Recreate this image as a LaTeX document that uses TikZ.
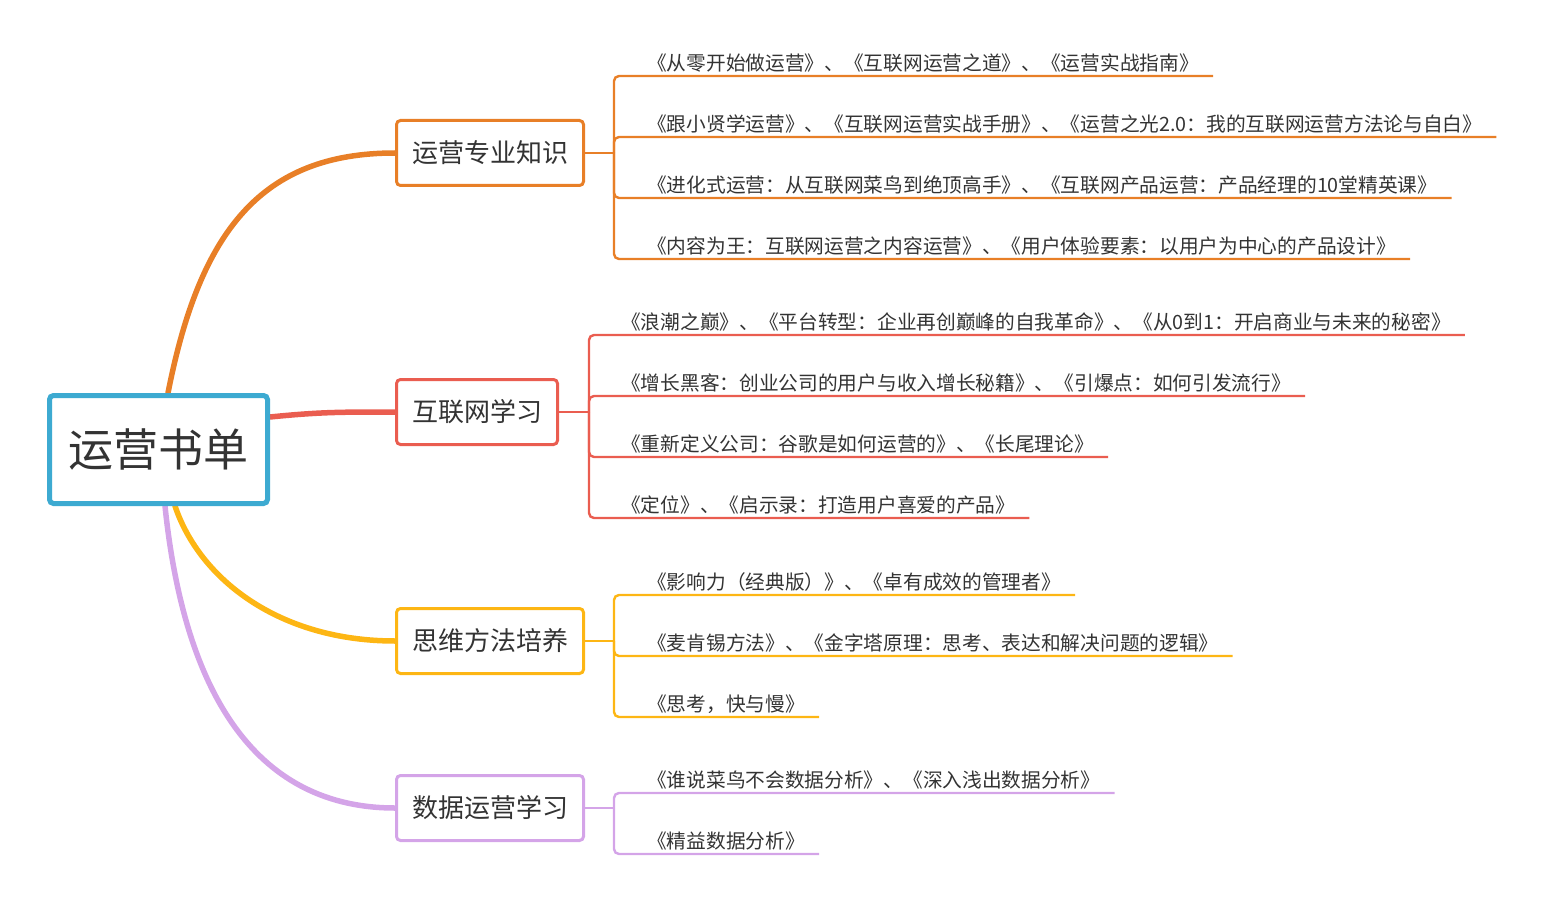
\documentclass[tikz,border=0pt]{standalone}
\usepackage{fontspec}
\setmainfont{Noto Sans CJK SC}
\usetikzlibrary{calc,backgrounds}
\definecolor{mmInk}{HTML}{333333}
\definecolor{mmBlue}{HTML}{3DAAD1}
\definecolor{mmOrange}{HTML}{E87F27}
\definecolor{mmRed}{HTML}{EA5D50}
\definecolor{mmYellow}{HTML}{FDB614}
\definecolor{mmPurple}{HTML}{D4A4E8}
\tikzset{
  root/.style  ={draw=mmBlue,line width=5pt,rounded corners=4pt,fill=white,text=mmInk,
                 minimum width=218pt,minimum height=108pt,inner sep=0pt,
                 font=\fontsize{45}{50}\selectfont},
  topic/.style ={draw=#1,line width=3pt,rounded corners=4pt,fill=white,text=mmInk,
                 minimum height=65pt,inner xsep=15.5pt,inner ysep=0pt,anchor=west,
                 font=\fontsize{26}{30}\selectfont},
  leaf/.style  ={anchor=base west,inner sep=0pt,text=mmInk,
                 font=\fontsize{19.7}{24}\selectfont},
  limb/.style  ={draw=#1,line width=5.5pt,line cap=round},
  twig/.style  ={draw=#1,line width=2.4pt,rounded corners=5pt},
}
\begin{document}
\begin{tikzpicture}[x=1pt,y=-1pt]
\useasboundingbox (0,0) rectangle (1555,904);

%% centre and main topics
\node[root] (root) at (158.5,449.5) {运营书单};
\node[topic=mmOrange] (know) at (395,153) {运营专业知识};
\node[topic=mmRed]    (web)  at (395,412) {互联网学习};
\node[topic=mmYellow] (mind) at (395,641) {思维方法培养};
\node[topic=mmPurple] (data) at (395,808) {数据运营学习};

\begin{scope}[on background layer]
  \draw[limb=mmOrange] ($(root.north)+(9.5,0)$) .. controls (200,230) and (262,153) .. (know.west);
  \draw[limb=mmRed]    ($(root.east)+(0,-32.5)$) .. controls (320,412) and (340,412) .. (web.west);
  \draw[limb=mmYellow] ($(root.south)+(16.5,0)$) .. controls (200,580) and (280,641) .. (mind.west);
  \draw[limb=mmPurple] ($(root.south)+(6.5,0)$) .. controls (185,700) and (260,808) .. (data.west);
\end{scope}

%% operating knowledge
\coordinate (kk) at (614,153);
\draw[twig=mmOrange] (know.east) -- (kk);
\foreach \i/\y/\txt in {
  1/76/{《从零开始做运营》、《互联网运营之道》、《运营实战指南》},
  2/137/{《跟小贤学运营》、《互联网运营实战手册》、《运营之光2.0：我的互联网运营方法论与自白》},
  3/198/{《进化式运营：从互联网菜鸟到绝顶高手》、《互联网产品运营：产品经理的10堂精英课》},
  4/259/{《内容为王：互联网运营之内容运营》、《用户体验要素：以用户为中心的产品设计》}}
{
  \node[leaf] (k\i) at (647,{\y-5.5}) {\txt};
  \draw[twig=mmOrange] ($(k\i.base east)+(14,5.5)$) -- (614,\y) -- (kk);
}

%% internet
\coordinate (wk) at (589,412);
\draw[twig=mmRed] (web.east) -- (wk);
\foreach \i/\y/\txt in {
  1/335/{《浪潮之巅》、《平台转型：企业再创巅峰的自我革命》、《从0到1：开启商业与未来的秘密》},
  2/396/{《增长黑客：创业公司的用户与收入增长秘籍》、《引爆点：如何引发流行》},
  3/457/{《重新定义公司：谷歌是如何运营的》、《长尾理论》},
  4/518/{《定位》、《启示录：打造用户喜爱的产品》}}
{
  \node[leaf] (w\i) at (621,{\y-5.5}) {\txt};
  \draw[twig=mmRed] ($(w\i.base east)+(14,5.5)$) -- (589,\y) -- (wk);
}

%% thinking
\coordinate (mk) at (614,641);
\draw[twig=mmYellow] (mind.east) -- (mk);
\foreach \i/\y/\txt in {
  1/595/{《影响力（经典版）》、《卓有成效的管理者》},
  2/656/{《麦肯锡方法》、《金字塔原理：思考、表达和解决问题的逻辑》},
  3/717/{《思考，快与慢》}}
{
  \node[leaf] (m\i) at (647,{\y-5.5}) {\txt};
  \draw[twig=mmYellow] ($(m\i.base east)+(14,5.5)$) -- (614,\y) -- (mk);
}

%% data
\coordinate (dk) at (614,808);
\draw[twig=mmPurple] (data.east) -- (dk);
\foreach \i/\y/\txt in {
  1/793/{《谁说菜鸟不会数据分析》、《深入浅出数据分析》},
  2/854/{《精益数据分析》}}
{
  \node[leaf] (d\i) at (647,{\y-5.5}) {\txt};
  \draw[twig=mmPurple] ($(d\i.base east)+(14,5.5)$) -- (614,\y) -- (dk);
}
\end{tikzpicture}
\end{document}
